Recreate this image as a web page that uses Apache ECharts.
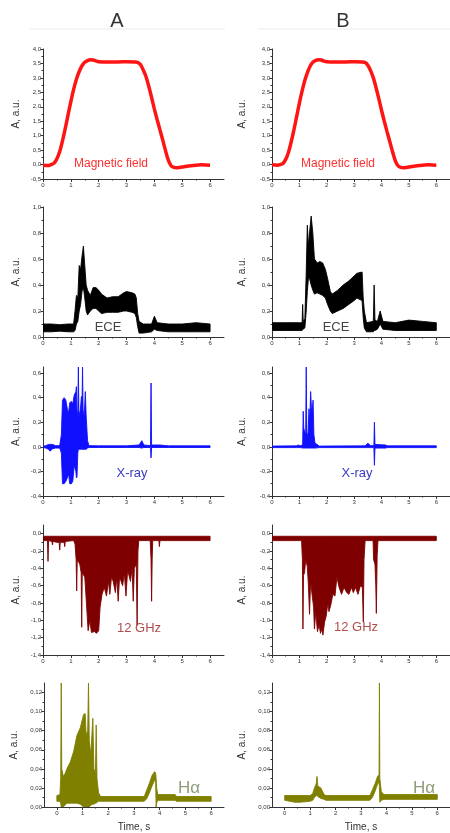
<!DOCTYPE html>
<html>
<head>
<meta charset="utf-8">
<script src="https://cdn.jsdelivr.net/npm/echarts@6/dist/echarts.min.js"></script>
<style>
  html, body { margin: 0; padding: 0; background: #fff; }
  #chart { width: 450px; height: 833px; }
</style>
</head>
<body>
<div id="chart"></div>
<script>
// ---- tick values ----
const timeTicks = [0, 1, 2, 3, 4, 5, 6];
const magTicks = [-0.5, 0, 0.5, 1, 1.5, 2, 2.5, 3, 3.5, 4];
const eceTicks = [0, 0.2, 0.4, 0.6, 0.8, 1.0];
const xrayTicks = [-0.4, -0.2, 0, 0.2, 0.4, 0.6];
const ghzTicks = [-1.4, -1.2, -1.0, -0.8, -0.6, -0.4, -0.2, 0];
const haTicks = [0, 0.02, 0.04, 0.06, 0.08, 0.10, 0.12];

// ---- magnetic field, [time s, amplitude] ----
const magFieldA = [[0,-0.02],[0.2,-0.03],[0.3,0.0],[0.4,0.05],[0.5,0.2],[0.6,0.45],[0.7,0.82],[0.8,1.25],[0.9,1.72],[1.0,2.18],[1.1,2.6],[1.2,2.95],[1.3,3.22],[1.4,3.42],[1.5,3.54],[1.6,3.6],[1.7,3.63],[1.8,3.62],[1.9,3.59],[2.0,3.56],[2.3,3.55],[2.7,3.55],[3.0,3.56],[3.3,3.55],[3.4,3.54],[3.5,3.46],[3.6,3.27],[3.7,3.04],[3.8,2.7],[3.9,2.32],[4.0,1.92],[4.1,1.55],[4.2,1.2],[4.3,0.85],[4.4,0.48],[4.5,0.15],[4.6,-0.04],[4.7,-0.1],[4.8,-0.11],[4.9,-0.1],[5.1,-0.07],[5.4,-0.03],[5.7,-0.01],[6.0,-0.02]];
const magFieldB = [[0,-0.01],[0.2,-0.02],[0.3,0.0],[0.4,0.04],[0.5,0.18],[0.6,0.42],[0.7,0.78],[0.8,1.2],[0.9,1.66],[1.0,2.13],[1.1,2.55],[1.2,2.92],[1.3,3.2],[1.4,3.42],[1.5,3.55],[1.6,3.61],[1.7,3.63],[1.8,3.62],[1.9,3.58],[2.0,3.56],[2.3,3.55],[2.7,3.55],[3.0,3.56],[3.3,3.55],[3.4,3.53],[3.5,3.44],[3.6,3.25],[3.7,3.0],[3.8,2.66],[3.9,2.28],[4.0,1.88],[4.1,1.5],[4.2,1.14],[4.3,0.8],[4.4,0.45],[4.5,0.14],[4.6,-0.04],[4.7,-0.1],[4.8,-0.11],[4.9,-0.1],[5.1,-0.07],[5.4,-0.03],[5.7,-0.01],[6.0,-0.02]];

// ---- noisy signals as envelopes, [time s, low, high] ----
const eceA = [[0,0.04,0.10],[0.3,0.04,0.10],[0.6,0.045,0.095],[0.9,0.04,0.10],[1.1,0.04,0.10],[1.15,0.05,0.2],[1.2,0.1,0.32],[1.25,0.12,0.3],[1.3,0.2,0.55],[1.35,0.25,0.52],[1.4,0.35,0.62],[1.45,0.38,0.7],[1.5,0.3,0.55],[1.55,0.2,0.4],[1.6,0.17,0.36],[1.7,0.2,0.32],[1.8,0.22,0.38],[1.9,0.22,0.38],[2.0,0.2,0.36],[2.1,0.18,0.33],[2.3,0.19,0.3],[2.5,0.19,0.31],[2.7,0.19,0.31],[2.9,0.2,0.34],[3.0,0.2,0.35],[3.2,0.19,0.34],[3.3,0.18,0.33],[3.35,0.15,0.3],[3.4,0.08,0.18],[3.45,0.03,0.12],[3.6,0.03,0.1],[3.9,0.04,0.1],[4.0,0.06,0.16],[4.1,0.05,0.11],[4.5,0.04,0.1],[5.0,0.04,0.1],[5.5,0.04,0.11],[6.0,0.04,0.1]];
const eceB = [[0,0.05,0.11],[0.5,0.05,0.11],[1.0,0.05,0.11],[1.1,0.05,0.11],[1.12,0.06,0.25],[1.14,0.06,0.12],[1.2,0.07,0.14],[1.25,0.2,0.5],[1.29,0.35,0.86],[1.33,0.45,0.7],[1.37,0.45,0.8],[1.43,0.4,0.93],[1.49,0.36,0.8],[1.55,0.33,0.6],[1.65,0.34,0.57],[1.75,0.33,0.58],[1.85,0.32,0.57],[1.95,0.3,0.52],[2.03,0.25,0.45],[2.13,0.2,0.35],[2.2,0.18,0.33],[2.4,0.2,0.36],[2.6,0.22,0.4],[2.8,0.25,0.43],[3.0,0.28,0.47],[3.1,0.3,0.49],[3.29,0.28,0.5],[3.33,0.15,0.3],[3.37,0.07,0.2],[3.45,0.04,0.11],[3.7,0.04,0.12],[3.73,0.05,0.4],[3.76,0.05,0.13],[3.85,0.06,0.12],[3.95,0.1,0.2],[4.05,0.06,0.12],[4.5,0.05,0.11],[5.0,0.05,0.13],[5.5,0.05,0.12],[6.0,0.05,0.11]];
const xrayA = [[0,-0.005,0.005],[0.1,-0.01,0.01],[0.2,-0.02,0.02],[0.25,-0.035,0.02],[0.35,-0.015,0.02],[0.45,-0.01,0.01],[0.6,-0.01,0.01],[0.66,-0.05,0.1],[0.7,-0.3,0.38],[0.76,-0.3,0.4],[0.82,-0.28,0.38],[0.88,-0.25,0.3],[0.92,-0.22,0.28],[0.96,-0.3,0.36],[1.02,-0.3,0.37],[1.07,-0.28,0.35],[1.12,-0.15,0.42],[1.18,-0.2,0.45],[1.2,-0.25,0.49],[1.22,-0.25,0.3],[1.25,-0.05,0.25],[1.27,-0.02,0.65],[1.29,-0.02,0.25],[1.34,-0.02,0.3],[1.38,-0.02,0.41],[1.4,-0.02,0.3],[1.42,-0.02,0.65],[1.44,-0.02,0.3],[1.48,-0.02,0.25],[1.52,-0.02,0.45],[1.55,-0.02,0.25],[1.6,-0.01,0.05],[1.65,-0.005,0.01],[2.0,-0.005,0.008],[3.0,-0.005,0.008],[3.45,-0.005,0.015],[3.55,-0.01,0.05],[3.62,-0.005,0.015],[3.86,-0.005,0.01],[3.88,-0.09,0.52],[3.9,-0.005,0.015],[4.2,-0.005,0.015],[4.5,-0.005,0.008],[6.0,-0.005,0.008]];
const xrayB = [[0,-0.006,0.006],[0.9,-0.006,0.008],[0.95,-0.006,0.015],[1.05,-0.006,0.008],[1.12,-0.01,0.02],[1.14,-0.01,0.29],[1.16,-0.01,0.15],[1.2,-0.01,0.12],[1.23,-0.01,0.1],[1.25,-0.01,0.65],[1.27,-0.01,0.12],[1.31,-0.01,0.08],[1.35,-0.01,0.31],[1.38,-0.01,0.2],[1.41,-0.01,0.45],[1.44,-0.01,0.32],[1.47,-0.01,0.3],[1.5,-0.01,0.38],[1.53,-0.01,0.1],[1.57,-0.01,0.03],[1.65,-0.008,0.02],[1.72,-0.006,0.006],[3.4,-0.006,0.008],[3.5,-0.006,0.03],[3.6,-0.006,0.01],[3.72,-0.006,0.01],[3.74,-0.15,0.2],[3.76,-0.01,0.02],[4.15,-0.01,0.015],[4.2,-0.006,0.008],[6.0,-0.006,0.008]];
const ghzA = [[0,-0.08,-0.03],[0.16,-0.08,-0.03],[0.18,-0.32,-0.03],[0.2,-0.08,-0.03],[0.32,-0.09,-0.03],[0.34,-0.13,-0.03],[0.36,-0.09,-0.03],[0.5,-0.1,-0.03],[0.58,-0.1,-0.03],[0.6,-0.19,-0.03],[0.62,-0.1,-0.03],[0.76,-0.1,-0.03],[0.78,-0.15,-0.03],[0.8,-0.09,-0.03],[1.1,-0.08,-0.03],[1.15,-0.12,-0.03],[1.19,-0.3,-0.03],[1.21,-0.66,-0.03],[1.23,-0.3,-0.03],[1.32,-0.35,-0.03],[1.37,-0.45,-0.03],[1.39,-1.08,-0.03],[1.41,-0.45,-0.03],[1.5,-0.5,-0.03],[1.56,-0.8,-0.03],[1.62,-1.12,-0.03],[1.68,-1.0,-0.03],[1.74,-1.14,-0.03],[1.85,-1.13,-0.03],[1.92,-1.15,-0.03],[2.0,-1.12,-0.03],[2.05,-0.85,-0.03],[2.12,-0.7,-0.03],[2.2,-0.62,-0.03],[2.28,-0.72,-0.03],[2.35,-0.55,-0.03],[2.4,-0.7,-0.03],[2.46,-0.5,-0.03],[2.52,-0.55,-0.03],[2.6,-0.68,-0.03],[2.65,-0.5,-0.03],[2.7,-0.78,-0.03],[2.75,-0.5,-0.03],[2.86,-0.6,-0.03],[2.92,-0.45,-0.03],[2.98,-0.72,-0.03],[3.04,-0.42,-0.03],[3.14,-0.55,-0.03],[3.2,-0.4,-0.03],[3.24,-0.78,-0.03],[3.28,-0.4,-0.03],[3.35,-0.35,-0.03],[3.38,-1.06,-0.03],[3.41,-0.2,-0.03],[3.44,-0.08,-0.03],[3.85,-0.08,-0.03],[3.88,-0.3,-0.03],[3.9,-0.78,-0.03],[3.92,-0.3,-0.03],[3.94,-0.08,-0.03],[4.16,-0.08,-0.03],[4.18,-0.15,-0.03],[4.2,-0.08,-0.03],[6.0,-0.08,-0.03]];
const ghzB = [[0,-0.08,-0.03],[1.08,-0.08,-0.03],[1.11,-0.3,-0.03],[1.13,-1.1,-0.03],[1.15,-0.48,-0.03],[1.19,-0.45,-0.03],[1.23,-0.3,-0.03],[1.29,-0.38,-0.03],[1.33,-0.6,-0.03],[1.37,-0.93,-0.03],[1.41,-0.55,-0.03],[1.47,-0.72,-0.03],[1.52,-0.85,-0.03],[1.55,-1.1,-0.03],[1.6,-0.9,-0.03],[1.66,-1.13,-0.03],[1.72,-1.05,-0.03],[1.77,-1.15,-0.03],[1.82,-1.1,-0.03],[1.86,-1.17,-0.03],[1.92,-1.02,-0.03],[1.98,-0.95,-0.03],[2.04,-0.8,-0.03],[2.08,-0.9,-0.03],[2.15,-0.82,-0.03],[2.22,-0.7,-0.03],[2.3,-0.72,-0.03],[2.37,-0.5,-0.03],[2.45,-0.62,-0.03],[2.54,-0.7,-0.03],[2.63,-0.62,-0.03],[2.73,-0.68,-0.03],[2.81,-0.7,-0.03],[2.9,-0.62,-0.03],[2.97,-0.68,-0.03],[3.05,-0.62,-0.03],[3.14,-0.7,-0.03],[3.23,-0.6,-0.03],[3.3,-0.62,-0.03],[3.335,-1.02,-0.03],[3.36,-0.3,-0.03],[3.4,-0.08,-0.03],[3.69,-0.08,-0.03],[3.71,-0.3,-0.03],[3.76,-0.35,-0.03],[3.79,-0.6,-0.03],[3.81,-0.92,-0.03],[3.84,-0.25,-0.03],[3.87,-0.08,-0.03],[6.0,-0.08,-0.03]];
const halphaA = [[0,0.006,0.012],[0.12,0.006,0.013],[0.15,0.004,0.03],[0.17,0.0,0.13],[0.19,0.0,0.04],[0.25,0.0,0.032],[0.32,0.002,0.035],[0.39,0.004,0.04],[0.52,0.004,0.047],[0.65,0.004,0.058],[0.78,0.004,0.075],[0.91,0.003,0.083],[1.04,0.0,0.097],[1.1,0.0,0.098],[1.14,0.0,0.075],[1.2,0.0,0.08],[1.23,0.0,0.13],[1.26,0.0,0.07],[1.32,0.002,0.055],[1.4,0.003,0.093],[1.44,0.003,0.04],[1.5,0.004,0.035],[1.53,0.004,0.086],[1.56,0.005,0.03],[1.62,0.006,0.015],[1.7,0.006,0.011],[2.5,0.006,0.011],[3.4,0.006,0.011],[3.5,0.009,0.018],[3.6,0.015,0.025],[3.7,0.022,0.033],[3.8,0.028,0.037],[3.84,0.028,0.036],[3.86,0.0,0.03],[3.88,0.004,0.02],[3.92,0.007,0.013],[4.6,0.007,0.013],[4.65,0.006,0.011],[6.0,0.006,0.011]];
const halphaB = [[0,0.007,0.012],[0.4,0.005,0.012],[0.6,0.005,0.012],[1.0,0.006,0.012],[1.1,0.007,0.014],[1.17,0.01,0.02],[1.24,0.012,0.024],[1.27,0.012,0.032],[1.3,0.011,0.022],[1.42,0.009,0.02],[1.55,0.008,0.013],[1.62,0.007,0.012],[3.35,0.007,0.012],[3.45,0.01,0.018],[3.56,0.017,0.025],[3.65,0.024,0.032],[3.71,0.026,0.034],[3.725,0.02,0.13],[3.74,0.005,0.03],[3.8,0.007,0.016],[3.9,0.008,0.013],[6.0,0.008,0.013]];

// ---- layout of the 5 x 2 panel grid ----
const FONT = 'Liberation Sans, Arial, sans-serif';
const rows = [
  { top: 49,  height: 130, yMin: -0.5, yMax: 4.0,  ticks: magTicks,  dec: 1, xMin: 0 },
  { top: 207, height: 130, yMin: 0,    yMax: 1.0,  ticks: eceTicks,  dec: 1, xMin: 0 },
  { top: 367, height: 129, yMin: -0.4, yMax: 0.65, ticks: xrayTicks, dec: 1, xMin: 0 },
  { top: 525, height: 130, yMin: -1.4, yMax: 0.1,  ticks: ghzTicks,  dec: 1, xMin: 0 },
  { top: 683, height: 130, yMin: 0,    yMax: 0.13, ticks: haTicks,   dec: 2, xMin: -0.5 }
];
const cols = [
  { left: 43,  width: 181, nameGap: 22 },
  { left: 272, width: 180, nameGap: 25 }
];

const mids = t => t.slice(1).map((v, i) => (v + t[i]) / 2);
const comma = dec => v => v.toFixed(dec).replace('.', ',');
const axisColor = '#333';

const grids = [], xAxes = [], yAxes = [], series = [];

rows.forEach((r, ri) => {
  cols.forEach((c, ci) => {
    const g = grids.length;
    const left = (ri === 4 && ci === 0) ? 44 : c.left;
    const width = (ri === 4) ? 180 : c.width;
    grids.push({ left: left, top: r.top, width: width, height: r.height });
    const xBase = {
      type: 'value', gridIndex: g, min: r.xMin, max: 6.5, position: 'bottom',
      splitLine: { show: false }
    };
    // major x axis
    xAxes.push(Object.assign({}, xBase, {
      axisLine: { show: true, onZero: false, lineStyle: { color: axisColor, width: 1 } },
      axisTick: { show: true, customValues: timeTicks, length: 3, lineStyle: { color: axisColor } },
      axisLabel: { show: true, customValues: timeTicks, fontSize: 6, color: axisColor, margin: 3, fontFamily: FONT },
      name: ri === 4 ? 'Time, s' : '',
      nameLocation: 'middle', nameGap: 15,
      nameTextStyle: { fontSize: 10, color: axisColor, fontFamily: FONT }
    }));
    // minor x ticks
    xAxes.push(Object.assign({}, xBase, {
      axisLine: { show: false, onZero: false },
      axisTick: { show: true, customValues: mids(timeTicks), length: 1.5, lineStyle: { color: axisColor } },
      axisLabel: { show: false }
    }));
    const yBase = {
      type: 'value', gridIndex: g, min: r.yMin, max: r.yMax, position: 'left',
      splitLine: { show: false }
    };
    yAxes.push(Object.assign({}, yBase, {
      axisLine: { show: true, onZero: false, lineStyle: { color: axisColor, width: 1 } },
      axisTick: { show: true, customValues: r.ticks, length: 2.5, lineStyle: { color: axisColor } },
      axisLabel: { show: true, customValues: r.ticks, fontSize: 6, color: axisColor, margin: 2,
                   fontFamily: FONT, formatter: comma(r.dec) },
      name: 'A, a.u.', nameLocation: 'middle',
      nameGap: ri === 4 ? 25 : c.nameGap,
      nameTextStyle: { fontSize: 10, color: axisColor, fontFamily: FONT }
    }));
    yAxes.push(Object.assign({}, yBase, {
      axisLine: { show: false, onZero: false },
      axisTick: { show: true, customValues: mids(r.ticks), length: 1.5, lineStyle: { color: axisColor } },
      axisLabel: { show: false }
    }));
  });
});

// index of the major axes for the panel in row ri, column ci
const ax = (ri, ci) => 2 * (ri * 2 + ci);

function lineSeries(data, color, ri, ci) {
  return {
    type: 'line', xAxisIndex: ax(ri, ci), yAxisIndex: ax(ri, ci),
    data: data, showSymbol: false, smooth: 0.3, silent: true,
    lineStyle: { color: color, width: 3.5 }
  };
}

// filled band between the low and high envelopes of a noisy trace
function bandSeries(data, color, ri, ci) {
  return {
    type: 'custom', xAxisIndex: ax(ri, ci), yAxisIndex: ax(ri, ci),
    data: data, encode: { x: 0, y: [1, 2] }, clip: true, silent: true,
    renderItem: function (params, api) {
      if (params.dataIndex !== 0) return null;
      const upper = data.map(d => api.coord([d[0], d[2]]));
      const lower = data.map(d => api.coord([d[0], d[1]])).reverse();
      return {
        type: 'polygon',
        shape: { points: upper.concat(lower) },
        style: { fill: color, stroke: color, lineWidth: 0.9, lineJoin: 'round' }
      };
    }
  };
}

const RED = '#ff1414', BLACK = '#000000', BLUE = '#1010ff', MAROON = '#7f0000', OLIVE = '#7f7f00';
series.push(lineSeries(magFieldA, RED, 0, 0), lineSeries(magFieldB, RED, 0, 1));
series.push(bandSeries(eceA, BLACK, 1, 0), bandSeries(eceB, BLACK, 1, 1));
series.push(bandSeries(xrayA, BLUE, 2, 0), bandSeries(xrayB, BLUE, 2, 1));
series.push(bandSeries(ghzA, MAROON, 3, 0), bandSeries(ghzB, MAROON, 3, 1));
series.push(bandSeries(halphaA, OLIVE, 4, 0), bandSeries(halphaB, OLIVE, 4, 1));

function txt(s, x, y, size, color) {
  return { type: 'text', x: x, y: y, silent: true, z: 100,
    style: { text: s, fontSize: size, fill: color, fontFamily: FONT, align: 'center', verticalAlign: 'middle' } };
}

const graphic = [
  { type: 'line', shape: { x1: 30, y1: 29, x2: 225, y2: 29 }, style: { stroke: '#ececec', lineWidth: 1 }, silent: true },
  { type: 'line', shape: { x1: 258, y1: 29, x2: 450, y2: 29 }, style: { stroke: '#ececec', lineWidth: 1 }, silent: true },
  txt('A', 117, 21, 20, '#333'),
  txt('B', 343, 21, 20, '#333'),
  txt('Magnetic field', 111, 164, 12, '#ff3030'),
  txt('Magnetic field', 338, 164, 12, '#ff3030'),
  txt('ECE', 108, 327, 13, '#444'),
  txt('ECE', 336, 327, 13, '#444'),
  txt('X-ray', 132, 473, 13, '#3b3bbf'),
  txt('X-ray', 357, 473, 13, '#3b3bbf'),
  txt('12 GHz', 139, 628, 13, '#b04e4e'),
  txt('12 GHz', 356, 627, 13, '#b04e4e'),
  txt('Hα', 189, 788, 17, '#8d9c79'),
  txt('Hα', 424, 788, 17, '#8d9c79')
];

const chart = echarts.init(document.getElementById('chart'), null, { renderer: 'canvas' });
chart.setOption({
  backgroundColor: '#fff',
  animation: false,
  grid: grids,
  xAxis: xAxes,
  yAxis: yAxes,
  series: series,
  graphic: graphic
});
</script>
</body>
</html>
